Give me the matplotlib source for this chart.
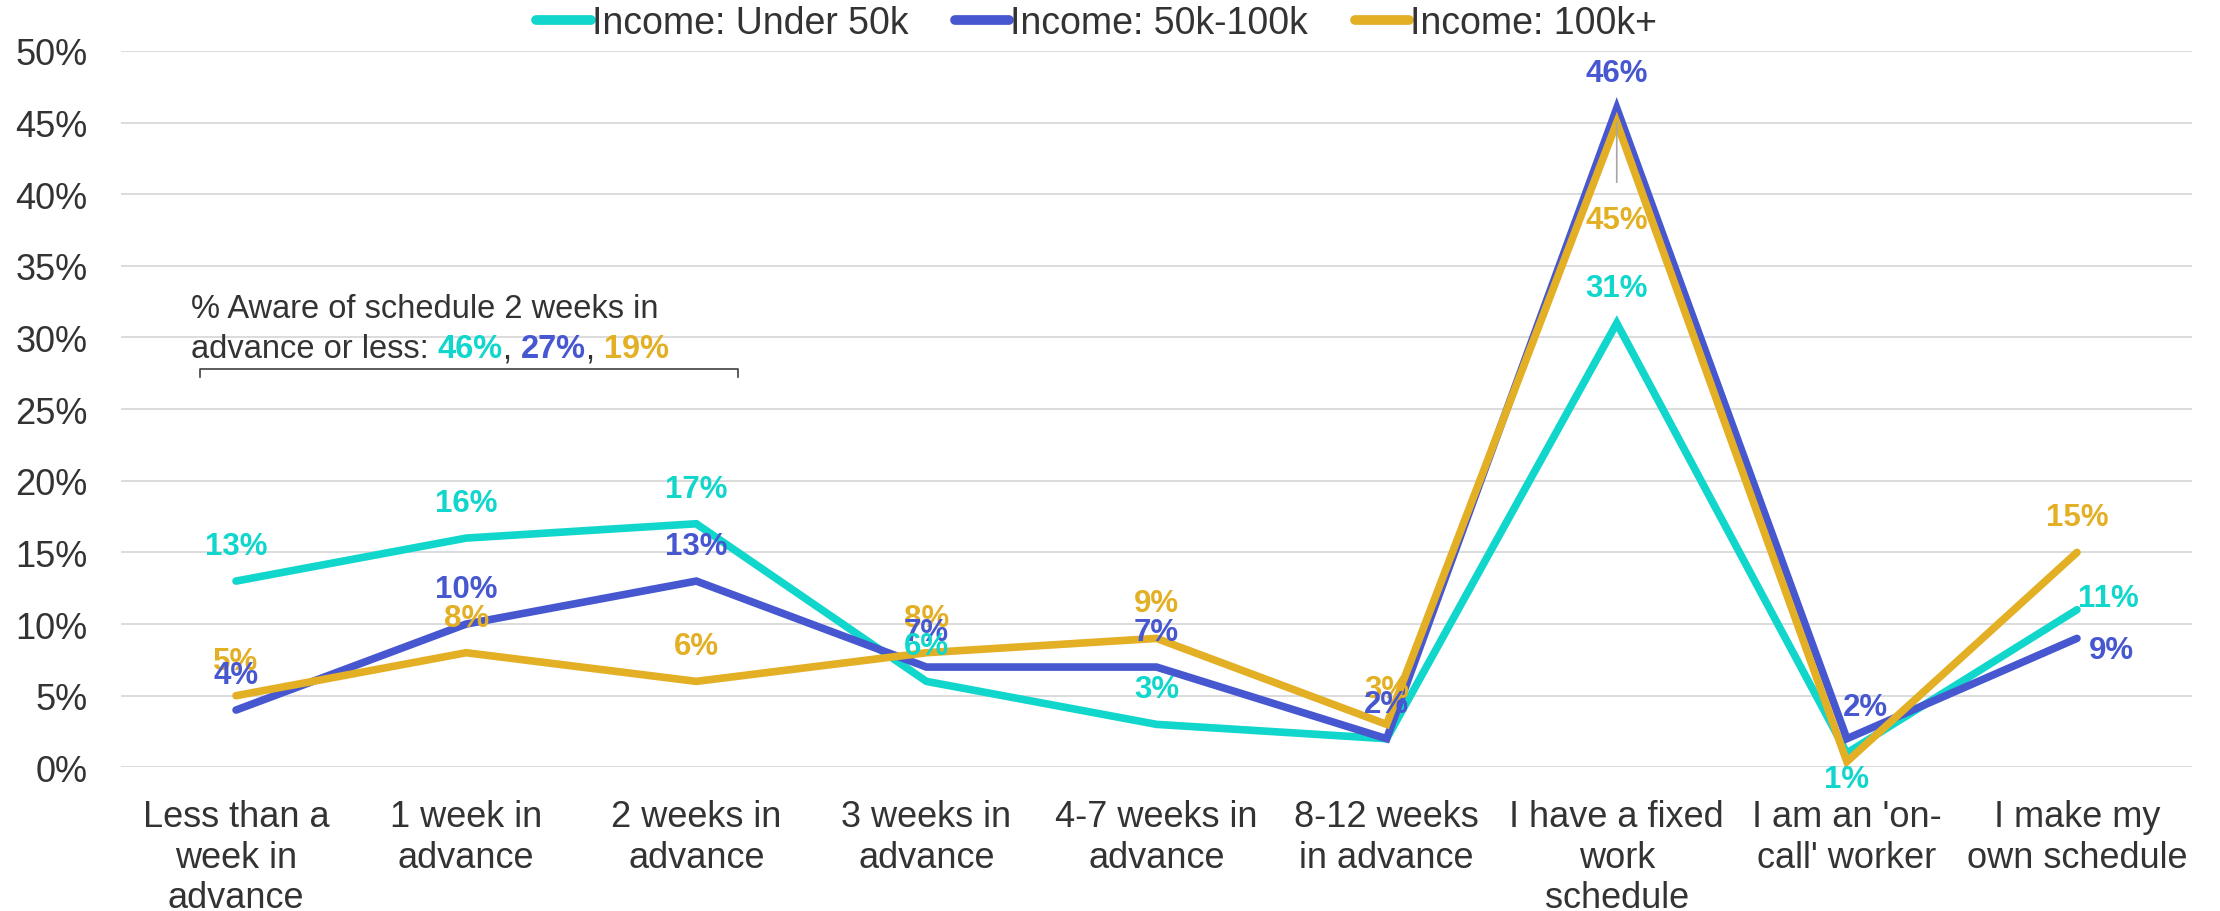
import matplotlib
matplotlib.use("Agg")
import matplotlib.pyplot as plt
from matplotlib.lines import Line2D

# ---- data ----
categories = ["Less than a\nweek in\nadvance", "1 week in\nadvance", "2 weeks in\nadvance",
              "3 weeks in\nadvance", "4-7 weeks in\nadvance", "8-12 weeks\nin advance",
              "I have a fixed\nwork\nschedule", "I am an 'on-\ncall' worker", "I make my\nown schedule"]
series_names = ["Income: Under 50k", "Income: 50k-100k", "Income: 100k+"]
under_50k = [13, 16, 17, 6, 3, 2, 31, 1, 11]
k50_100k = [4, 10, 13, 7, 7, 2, 46, 2, 9]
k100_plus = [5, 8, 6, 8, 9, 3, 45, 0.4, 15]
yticks = [0, 5, 10, 15, 20, 25, 30, 35, 40, 45, 50]
aware_values = ["46%", "27%", "19%"]

# ---- style ----
colors = ["#10D6CB", "#4657CF", "#E3AF24"]
FONT = "Liberation Sans"
TXT = "#333333"
plt.rcParams["font.family"] = [FONT, "DejaVu Sans"]

fig = plt.figure(figsize=(22.2, 9.12), dpi=100)
ax = fig.add_axes([0.0545, 0.1575, 0.9329, 0.7856])

xs = list(range(len(categories)))
all_series = [under_50k, k50_100k, k100_plus]
for vals, c, name in zip(all_series, colors, series_names):
    ax.plot(xs, vals, color=c, lw=5.5, solid_capstyle="round", solid_joinstyle="miter",
            label=name, zorder=3)

# label placement (pixel offsets from point); None = hidden
default_off = (0, 35)
special = {
    (2, 6): (0, -97),
    (0, 7): (0, -26),
    (1, 7): (19, 32),
    (0, 8): (31, 12),
    (1, 8): (34, -12),
    (2, 7): None,
    (0, 5): None,
}
for si in [2, 1, 0]:
    vals = all_series[si]
    for i, v in enumerate(vals):
        off = special.get((si, i), default_off)
        if off is None:
            continue
        kw = {}
        if (si, i) == (2, 6):
            kw = dict(arrowprops=dict(arrowstyle="-", color="#A6A6A6", lw=1.2,
                                      shrinkA=14, shrinkB=0))
        ax.annotate(f"{round(v)}%", (i, v), xytext=off, textcoords="offset pixels",
                    ha="center", va="center", color=colors[si], fontsize=22.5,
                    fontweight="bold", zorder=5, **kw)

ax.set_xlim(-0.5, 8.5)
ax.set_ylim(0, 50)
ax.set_yticks(yticks)
ax.set_yticklabels([f"{t}%" for t in yticks])
ax.set_xticks(xs)
ax.set_xticklabels(categories, linespacing=1.2)
ax.tick_params(axis="both", length=0, labelsize=26, labelcolor=TXT)
ax.tick_params(axis="y", pad=24)
ax.tick_params(axis="x", pad=23)
ax.grid(axis="y", color="#D9D9D9", lw=1.3, zorder=0)
ax.set_axisbelow(True)
for s in ax.spines.values():
    s.set_visible(False)

# legend
leg = fig.legend(loc="center", bbox_to_anchor=(0.494, 1 - 24 / 912), ncol=3, frameon=False,
                 fontsize=27, handlelength=1.45, handletextpad=0.02, columnspacing=1.25,
                 borderpad=0, borderaxespad=0)
for t in leg.get_texts():
    t.set_color(TXT)
for h in leg.legend_handles:
    h.set_linewidth(7)

# annotation text with coloured values
t1 = fig.text(191 / 2220, 1 - 309 / 912, "% Aware of schedule 2 weeks in", fontsize=23.5,
              color=TXT, ha="left", va="center")
t2 = fig.text(191 / 2220, 1 - 350 / 912, "advance or less: ", fontsize=23.5,
              color=TXT, ha="left", va="center")
pieces = [(aware_values[0], colors[0], "bold"), (", ", TXT, "normal"),
          (aware_values[1], colors[1], "bold"), (", ", TXT, "normal"),
          (aware_values[2], colors[2], "bold")]
last = t2
for txt, c, w in pieces:
    last = ax.annotate(txt, xy=(1, 0), xycoords=last, va="bottom", ha="left",
                       fontsize=23.5, color=c, fontweight=w, annotation_clip=False)

# bracket
bx0, bx1, by, bt = 200 / 2220, 738 / 2220, 1 - 370 / 912, 8 / 912
fig.add_artist(Line2D([bx0, bx0, bx1, bx1], [by - bt, by, by, by - bt],
                      transform=fig.transFigure, color="#404040", lw=1.2))

fig.savefig("out.png", dpi=100)
